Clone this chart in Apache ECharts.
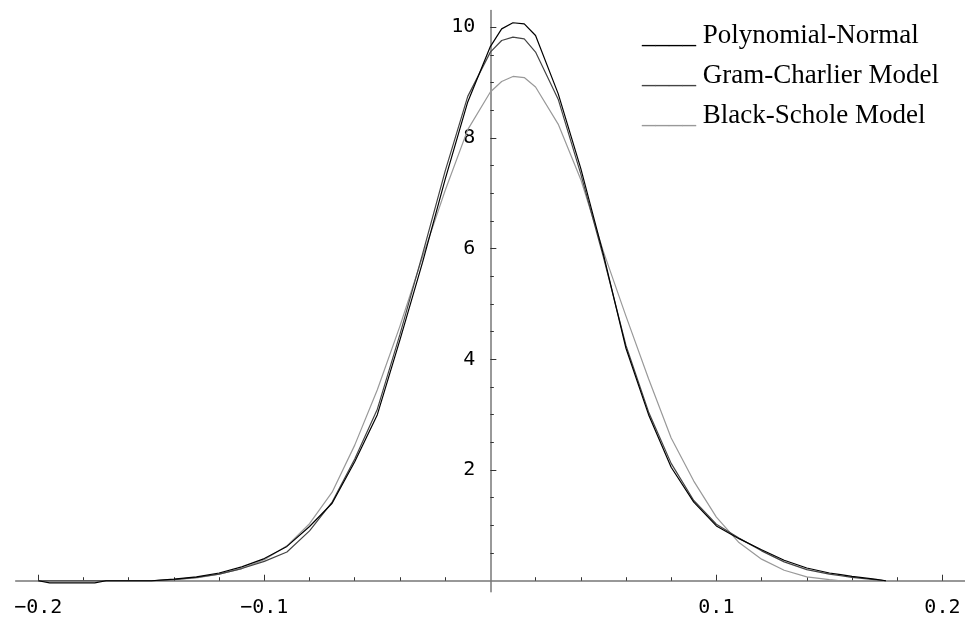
<!DOCTYPE html>
<html>
<head>
<meta charset="utf-8">
<script src="https://cdn.jsdelivr.net/npm/echarts@6/dist/echarts.min.js"></script>
<style>
  html, body { margin: 0; padding: 0; background: #fff; }
  #main { width: 965px; height: 621px; }
</style>
</head>
<body>
<div id="main"></div>
<script>
// x 取值（收益率）
const xs = [-0.2, -0.195, -0.175, -0.17, -0.15, -0.14, -0.13, -0.12, -0.11, -0.1,
  -0.09, -0.08, -0.07, -0.06, -0.05, -0.04, -0.03, -0.02, -0.01, 0,
  0.005, 0.01, 0.015, 0.02, 0.03, 0.04, 0.05, 0.06, 0.07, 0.08,
  0.09, 0.1, 0.11, 0.12, 0.13, 0.14, 0.15, 0.155, 0.16, 0.17, 0.175]

// 三条密度曲线
const polyNormal = [0, -0.04, -0.04, 0, 0, 0.03, 0.07, 0.14, 0.25, 0.4,
  0.62, 0.98, 1.4, 2.15, 3.0, 4.35, 5.75, 7.25, 8.65, 9.65,
  9.97, 10.08, 10.06, 9.85, 8.8, 7.45, 5.9, 4.2, 3.0, 2.05,
  1.42, 0.99, 0.76, 0.56, 0.37, 0.23, 0.14, 0.11, 0.08, 0.03, 0]

const gramCharlier = [0, 0, 0, 0, 0, 0.02, 0.06, 0.12, 0.22, 0.35,
  0.52, 0.9, 1.42, 2.2, 3.1, 4.45, 5.9, 7.4, 8.75, 9.55,
  9.76, 9.82, 9.79, 9.55, 8.7, 7.35, 5.85, 4.25, 3.05, 2.12,
  1.45, 1.02, 0.77, 0.54, 0.34, 0.2, 0.12, 0.09, 0.06, 0.02, 0]

const blackScholes = [0, 0, 0, 0, 0, 0.02, 0.05, 0.12, 0.22, 0.38,
  0.63, 1.03, 1.6, 2.45, 3.45, 4.6, 5.85, 7.05, 8.15, 8.83,
  9.02, 9.11, 9.09, 8.92, 8.25, 7.25, 5.95, 4.78, 3.65, 2.58,
  1.8, 1.15, 0.69, 0.39, 0.19, 0.07, 0.02, 0, 0, 0, 0]

const seriesNames = ['Polynomial-Normal', 'Gram-Charlier Model', 'Black-Schole Model']
const seriesColors = ['#000', '#444', '#999']

// 刻度
const xMajorTicks = [-0.2, -0.1, 0.1, 0.2]
const xMinorTicks = [-0.18, -0.16, -0.14, -0.12, -0.08, -0.06, -0.04, -0.02,
  0.02, 0.04, 0.06, 0.08, 0.12, 0.14, 0.16, 0.18]
const yMajorTicks = [2, 4, 6, 8, 10]
const yMinorTicks = [0.5, 1, 1.5, 2.5, 3, 3.5, 4.5, 5, 5.5, 6.5, 7, 7.5, 8.5, 9, 9.5]

function toPairs(ys) {
  return xs.map((x, i) => [x, ys[i]])
}

const dom = document.querySelector('#main')
const myChart = echarts.init(dom)

// 网格与坐标范围：坐标轴交于 (0,0)，用 offset 把轴线挪到零点
const gridBox = { left: 15.7, right: 0, top: 10.6, bottom: 29.2 }
const xRange = [-0.21, 0.21]
const yRange = [-0.2, 10.3]
const gridW = 965 - gridBox.left - gridBox.right
const gridH = 621 - gridBox.top - gridBox.bottom
const yAxisOffset = -(0 - xRange[0]) / (xRange[1] - xRange[0]) * gridW
const xAxisOffset = -(0 - yRange[0]) / (yRange[1] - yRange[0]) * gridH

const tickFont = { fontFamily: 'DejaVu Sans Mono', fontSize: 20, color: '#000' }
const serifFont = { fontFamily: 'Liberation Serif', fontSize: 27, lineHeight: 27 }

function makeX(ticks, len, main) {
  return {
    type: 'value', min: xRange[0], max: xRange[1], position: 'bottom', offset: xAxisOffset,
    axisLine: { onZero: false, lineStyle: main ? { color: '#777', width: 1.5 } : { opacity: 0 } },
    splitLine: { show: false },
    axisTick: { inside: true, length: len, customValues: ticks, lineStyle: { color: '#333' } },
    axisLabel: main ? Object.assign({
      customValues: ticks,
      margin: 17,
      formatter: v => v.toFixed(1).replace('-', '\u2212')
    }, tickFont) : { show: false }
  }
}

function makeY(ticks, len, main) {
  return {
    type: 'value', min: yRange[0], max: yRange[1], position: 'left', offset: yAxisOffset,
    axisLine: { onZero: false, lineStyle: main ? { color: '#777', width: 1.5 } : { opacity: 0 } },
    splitLine: { show: false },
    axisTick: { inside: true, length: len, customValues: ticks, lineStyle: { color: '#333' } },
    axisLabel: main ? Object.assign({
      customValues: ticks,
      margin: 15,
      formatter: v => String(v)
    }, tickFont) : { show: false }
  }
}

const option = {
  animation: false,
  backgroundColor: '#fff',
  grid: Object.assign({ outerBoundsMode: 'none', containLabel: false }, gridBox),
  legend: {
    orient: 'vertical',
    left: 636,
    top: 22,
    padding: 0,
    itemWidth: 0,
    itemHeight: 0,
    itemGap: 13,
    selectedMode: false,
    data: seriesNames,
    formatter: name => '{u' + seriesNames.indexOf(name) + '|____} {t|' + name + '}',
    textStyle: Object.assign({
      color: '#000',
      rich: {
        u0: Object.assign({ color: seriesColors[0] }, serifFont),
        u1: Object.assign({ color: seriesColors[1] }, serifFont),
        u2: Object.assign({ color: seriesColors[2] }, serifFont),
        t: Object.assign({ color: '#000' }, serifFont)
      }
    }, serifFont)
  },
  xAxis: [makeX(xMajorTicks, 6, true), makeX(xMinorTicks, 3.5, false)],
  yAxis: [makeY(yMajorTicks, 6, true), makeY(yMinorTicks, 3.5, false)],
  series: [polyNormal, gramCharlier, blackScholes].map((ys, i) => ({
    name: seriesNames[i],
    type: 'line',
    xAxisIndex: 0,
    yAxisIndex: 0,
    data: toPairs(ys),
    symbol: 'none',
    z: 3 - i,
    lineStyle: { color: seriesColors[i], width: 1.2 },
    itemStyle: { color: seriesColors[i] }
  }))
}

myChart.setOption(option)
</script>
</body>
</html>
